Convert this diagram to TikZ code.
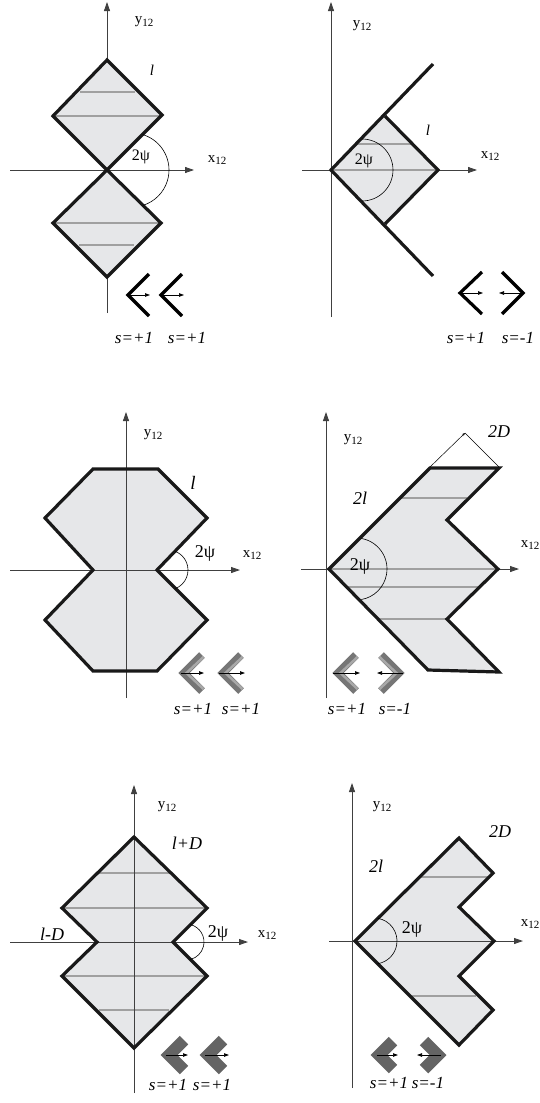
\documentclass[tikz,border=0pt]{standalone}
\usepackage{fontspec}
\setmainfont{Liberation Serif}
\usepackage{xcolor}
\definecolor{regfill}{RGB}{230,231,233}
\definecolor{stripegray}{RGB}{160,160,160}
\definecolor{chevgray}{RGB}{118,118,118}
\definecolor{chevlight}{RGB}{168,168,168}
\definecolor{chevdark}{RGB}{100,100,100}
\usepackage{tikz}
\usetikzlibrary{arrows.meta}
\newcommand{\idx}[1]{\raisebox{-0.35ex}{\fontsize{11}{11}\selectfont #1}}

\begin{document}
\begin{tikzpicture}[
  x=1pt, y=-1pt,
  axisln/.style={line width=0.8pt, color=black!75, -{Triangle[length=9pt, width=6pt]}},
  region/.style={fill=regfill, draw=none},
  outln/.style={line width=3.2pt, line join=miter, color=black!90},
  stripe/.style={line width=2.4pt, color=stripegray},
  angarc/.style={line width=0.6pt},
  dimln/.style={line width=0.5pt},
  axlbl/.style={font=\fontsize{15}{17}\selectfont, inner sep=0pt},
  lbl/.style={font=\fontsize{15}{17}\selectfont\itshape, inner sep=0pt},
  biglbl/.style={font=\fontsize{18}{20}\selectfont\itshape, inner sep=0pt},
  anglbl/.style={font=\fontsize{16}{18}\selectfont, inner sep=0pt},
  biganglbl/.style={font=\fontsize{18}{20}\selectfont, inner sep=0pt},
  slbl/.style={font=\fontsize{17}{19}\selectfont\itshape, inner sep=0pt},
  chevblk/.style={line width=3.2pt, line join=miter},
  chevgry/.style={line width=8pt, color=chevgray, line join=miter},
  chevhl/.style={line width=2.5pt, color=chevlight, line join=miter},
  chevdrk/.style={line width=12pt, color=chevdark, line join=miter},
  smarr/.style={line width=0.7pt, -{Triangle[length=5pt, width=3.5pt]}}
]
  \useasboundingbox (0,0) rectangle (540,1103);

  % top row
  \draw[axisln] (107,313) -- (107,2);
  \draw[axisln] (10,170) -- (194,170);
  \fill[region] (107,60) -- (162,115) -- (107,170) -- (53,116) -- cycle;
  \fill[region] (107,170) -- (161,223) -- (107,277) -- (53,223) -- cycle;
  \draw[stripe] (80,92) -- (135,92);
  \draw[stripe] (55,116) -- (160,116);
  \draw[stripe] (55,223) -- (159,223);
  \draw[stripe] (79,245) -- (134,245);
  \draw[outln] (107,60) -- (162,115) -- (107,170) -- (53,116) -- cycle;
  \draw[outln] (107,170) -- (161,223) -- (107,277) -- (53,223) -- cycle;
  \draw[angarc] (132,170) ++(-73:37) arc[start angle=-73, end angle=73, radius=37];
  \node[axlbl] (y12a) at (144,22) {y\idx{12}};
  \node[lbl] (la) at (152,70) {l};
  \node[anglbl] (psia) at (141,157) {2ψ};
  \node[axlbl] (x12a) at (217,160) {x\idx{12}};
  \draw[chevblk] (149,274) -- (128,295) -- (149,316);
  \draw[chevblk] (182,274) -- (161,295) -- (182,316);
  \draw[smarr] (129,295) -- (150,295);
  \draw[smarr] (162,295) -- (184,295);
  \node[slbl] (sa1) at (134,338) {s=+1};
  \node[slbl] (sa2) at (187,338) {s=+1};

  \draw[axisln] (331,317) -- (331,2);
  \draw[axisln] (302,170) -- (477,170);
  \fill[region] (331,170) -- (385,116) -- (438,170) -- (385,224) -- cycle;
  \draw[stripe] (358,144) -- (412,144);
  \draw[stripe] (333,170) -- (436,170);
  \draw[outln] (433,64) -- (331,170) -- (433,276);
  \draw[outln] (385,116) -- (438,170) -- (385,224);
  \draw[angarc] (362,170) ++(-90:31) arc[start angle=-90, end angle=90, radius=31];
  \node[axlbl] (y12b) at (362,26) {y\idx{12}};
  \node[lbl] (lb) at (428,130) {l};
  \node[anglbl] (psib) at (364,161) {2ψ};
  \node[axlbl] (x12b) at (490,156) {x\idx{12}};
  \draw[chevblk] (482,272) -- (460,293) -- (482,314);
  \draw[chevblk] (502,272) -- (523,293) -- (502,314);
  \draw[smarr] (461,293) -- (483,293);
  \draw[smarr] (522,293) -- (499,293);
  \node[slbl] (sb1) at (466,338) {s=+1};
  \node[slbl] (sb2) at (518,338) {s=-1};

  % middle row
  \fill[region] (93,469) -- (158,469) -- (207,518) -- (157,570) -- (207,620)
    -- (157,671) -- (93,671) -- (45,620) -- (93,570) -- (45,518) -- cycle;
  \draw[axisln] (126,698) -- (126,412);
  \draw[axisln] (10,570) -- (240,570);
  \draw[outln] (93,469) -- (158,469) -- (207,518) -- (157,570) -- (207,620)
    -- (157,671) -- (93,671) -- (45,620) -- (93,570) -- (45,518) -- cycle;
  \draw[angarc] (168,570) ++(-68:20) arc[start angle=-68, end angle=68, radius=20];
  \node[axlbl] (y12c) at (153,435) {y\idx{12}};
  \node[font=\fontsize{19}{21}\selectfont\itshape, inner sep=0pt] (lc) at (193,483) {l};
  \node[biganglbl] (psic) at (205,553) {2ψ};
  \node[axlbl] (x12c) at (252,555) {x\idx{12}};
  \draw[chevgry] (202,655) -- (184,673) -- (202,691);
  \draw[chevhl] (203.5,657) -- (186.5,673) -- (203.5,689);
  \draw[chevgry] (241,655) -- (223,673) -- (241,691);
  \draw[chevhl] (242.5,657) -- (225.5,673) -- (242.5,689);
  \draw[smarr] (181,673) -- (204,673);
  \draw[smarr] (219,673) -- (245,673);
  \node[slbl] (sc1) at (193,709) {s=+1};
  \node[slbl] (sc2) at (241,709) {s=+1};

  \draw[axisln] (326,698) -- (326,412);
  \draw[axisln] (301,569) -- (519,569);
  \fill[region] (329,569) -- (430,468) -- (499,468) -- (447,520) -- (498,569)
    -- (447,619) -- (499,672) -- (428,670) -- cycle;
  \draw[stripe] (401,498) -- (467,498);
  \draw[stripe] (331,569) -- (496,569);
  \draw[stripe] (348,587) -- (478,587);
  \draw[stripe] (380,619) -- (447,619);
  \draw[outln] (329,569) -- (430,468) -- (499,468) -- (447,520) -- (498,569)
    -- (447,619) -- (499,672) -- (428,670) -- cycle;
  \coordinate (apexd) at (465,433);
  \draw[dimln, -{Stealth[length=3pt, width=2.5pt]}] (430,467) -- (apexd);
  \draw[dimln] (apexd) -- (499,467);
  \draw[angarc] (356,569) ++(-80:31) arc[start angle=-80, end angle=80, radius=31];
  \node[axlbl] (y12d) at (353,440) {y\idx{12}};
  \node[biglbl] (twod) at (499,432) {2D};
  \node[biglbl] (twold) at (360,498) {2l};
  \node[biganglbl] (psid) at (360,566) {2ψ};
  \node[axlbl] (x12d) at (530,545) {x\idx{12}};
  \draw[chevgry] (356,655) -- (338,673) -- (356,691);
  \draw[chevhl] (357.5,657) -- (340.5,673) -- (357.5,689);
  \draw[chevgry] (381,655) -- (399,673) -- (381,691);
  \draw[chevhl] (379.5,657) -- (396.5,673) -- (379.5,689);
  \draw[smarr] (333,673) -- (360,673);
  \draw[smarr] (403,673) -- (377,673);
  \node[slbl] (sd1) at (347,709) {s=+1};
  \node[slbl] (sd2) at (395,709) {s=-1};

  % bottom row
  \fill[region] (134,837) -- (207,908) -- (173,942) -- (207,976) -- (134,1048)
    -- (62,976) -- (97,942) -- (62,908) -- cycle;
  \draw[stripe] (99,873) -- (170,873);
  \draw[stripe] (62,908) -- (207,908);
  \draw[stripe] (62,976) -- (207,976);
  \draw[stripe] (99,1010) -- (169,1010);
  \draw[axisln] (134,1093) -- (134,785);
  \draw[axisln] (10,942) -- (248,942);
  \draw[outln] (134,837) -- (207,908) -- (173,942) -- (207,976) -- (134,1048)
    -- (62,976) -- (97,942) -- (62,908) -- cycle;
  \draw[angarc] (186,942) ++(-76:18) arc[start angle=-76, end angle=76, radius=18];
  \node[axlbl] (y12e) at (167,807) {y\idx{12}};
  \node[biglbl] (lpd) at (187,843) {l+D};
  \node[biglbl] (lmd) at (52,934) {l-D};
  \node[biganglbl] (psie) at (218,933) {2ψ};
  \node[axlbl] (x12e) at (267,935) {x\idx{12}};
  \draw[chevdrk] (184,1040) -- (169,1055) -- (184,1070);
  \draw[chevdrk] (223,1040) -- (208,1055) -- (223,1070);
  \draw[smarr] (166,1055) -- (188,1055);
  \draw[smarr] (205,1055) -- (229,1055);
  \node[slbl] (se1) at (168,1085) {s=+1};
  \node[slbl] (se2) at (212,1085) {s=+1};

  \fill[region] (355,941) -- (459,838) -- (493,873) -- (459,907) -- (494,941)
    -- (459,976) -- (493,1010) -- (459,1045) -- cycle;
  \draw[stripe] (420,877) -- (488,877);
  \draw[stripe] (412,996) -- (476,996);
  \draw[axisln] (352,1088) -- (352,783);
  \draw[axisln] (329,941) -- (523,941);
  \draw[outln] (355,941) -- (459,838) -- (493,873) -- (459,907) -- (494,941)
    -- (459,976) -- (493,1010) -- (459,1045) -- cycle;
  \draw[angarc] (374,941) ++(-81:23) arc[start angle=-81, end angle=81, radius=23];
  \node[axlbl] (y12f) at (382,807) {y\idx{12}};
  \node[biglbl] (twodf) at (500,832) {2D};
  \node[biglbl] (twolf) at (376,866) {2l};
  \node[biganglbl] (psif) at (412,929) {2ψ};
  \node[axlbl] (x12f) at (530,924) {x\idx{12}};
  \draw[chevdrk] (393,1041) -- (379,1055) -- (393,1069);
  \draw[chevdrk] (424,1041) -- (438,1055) -- (424,1069);
  \draw[smarr] (377,1055) -- (398,1055);
  \draw[smarr] (441,1055) -- (417,1055);
  \node[slbl] (sf1) at (389,1083) {s=+1};
  \node[slbl] (sf2) at (428,1083) {s=-1};
\end{tikzpicture}
\end{document}
